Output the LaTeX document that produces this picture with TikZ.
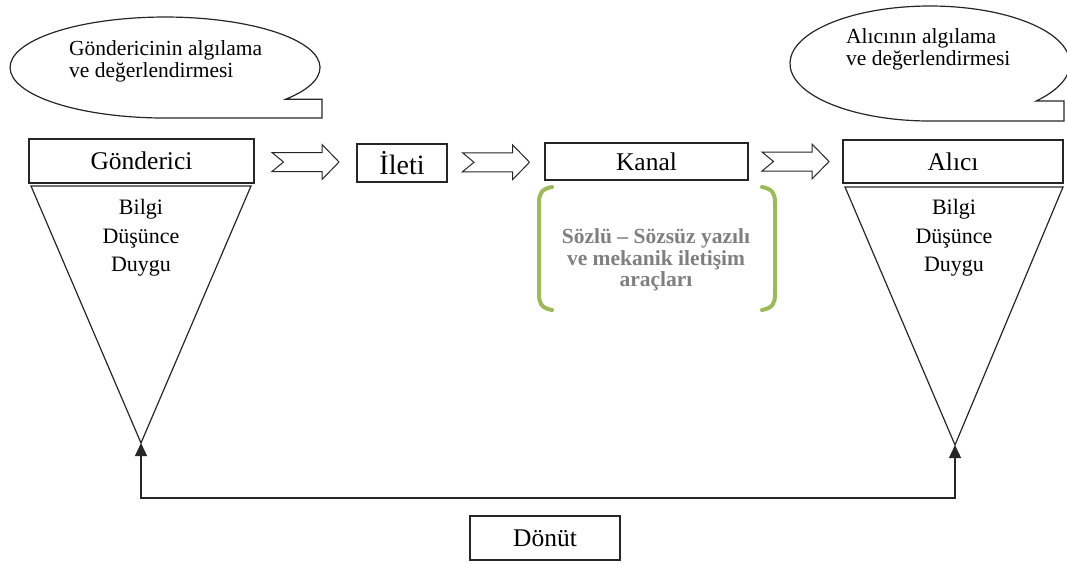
\documentclass[tikz,border=0pt]{standalone}
\usepackage{fontspec}
\setmainfont{Liberation Serif}
\usetikzlibrary{arrows.meta,positioning,calc}
\definecolor{bracketgreen}{HTML}{9BBB59}
\definecolor{notegray}{HTML}{7F7F7F}

\begin{document}
\begin{tikzpicture}[
    x=1pt, y=-1pt,
    box/.style={rectangle, draw=black!85, line width=1.2pt, inner sep=0pt, font=\fontsize{25.5}{28}\selectfont},
    outline/.style={draw=black!85, line width=1.2pt},
    body/.style={align=center, inner sep=0pt, font=\fontsize{22}{28.5}\selectfont},
    thought/.style={align=left, anchor=north west, inner sep=0pt, font=\fontsize{21.5}{22}\selectfont},
    note/.style={align=center, inner sep=0pt, text=notegray, font=\bfseries\fontsize{21.5}{21.5}\selectfont},
    bracket/.style={draw=bracketgreen, line width=4pt, line cap=round},
    feedback/.style={{Triangle[length=13pt,width=12pt]}-{Triangle[length=13pt,width=12pt]}, draw=black!85, line width=1.3pt},
    fatarrow/.pic={\draw[outline, line width=1pt] (-33.5,-9.5) -- (16.5,-9.5) -- (16.5,-17.5) -- (33.5,0) -- (16.5,17.5) -- (16.5,9.5) -- (-33.5,9.5) -- (-22,0) -- cycle;}
]
    \useasboundingbox (0,0) rectangle (1067,563);

    % Thought bubbles
    \draw[outline] (285.5,99.3) arc[start angle=39, end angle=-270, x radius=155, y radius=50.5] -- (322,118) -- (322,99.3) -- cycle;
    \node[thought] (gthought) at (69,40) {Göndericinin algılama\\ve değerlendirmesi};
    \draw[outline] (1036.1,101) arc[start angle=40.7, end angle=-270, x radius=140, y radius=57.5] -- (1064,121) -- (1064,101) -- cycle;
    \node[thought] (athought) at (846,28.5) {Alıcının algılama\\ve değerlendirmesi};

    % Main chain
    \node[box, minimum width=225pt, minimum height=44pt] (gonderici) at (141.5,161) {Gönderici};
    \node[box, minimum width=90pt, minimum height=38pt, font=\fontsize{28}{30}\selectfont] (ileti) at (402,163) {İleti};
    \node[box, minimum width=203pt, minimum height=37pt] (kanal) at (646.5,161.5) {Kanal};
    \node[box, minimum width=220pt, minimum height=43pt] (alici) at (953,161.5) {Alıcı};

    \pic at ($(gonderici.east)!0.5!(ileti.west)$) {fatarrow};
    \pic at ($(ileti.east)!0.5!(kanal.west)$) {fatarrow};
    \pic at ($(kanal.east)!0.5!(alici.west)$) {fatarrow};

    % Funnels
    \coordinate (gapex) at (141,443);
    \coordinate (aapex) at (955,445);
    \draw[outline] (31,186) -- (251,186) -- (gapex) -- cycle;
    \draw[outline] (845,187) -- (1063,187) -- (aapex) -- cycle;
    \node[body] (gcontent) at (141,238) {Bilgi\\Düşünce\\Duygu};
    \node[body] (acontent) at (954,238) {Bilgi\\Düşünce\\Duygu};

    % Channel tools
    \draw[bracket] (552,187) .. controls (541,189) and (539,194) .. (539,203) -- (539,294) .. controls (539,303) and (541,308) .. (552,310);
    \draw[bracket] (762,187) .. controls (773,189) and (775,194) .. (775,203) -- (775,294) .. controls (775,303) and (773,308) .. (762,310);
    \node[note] (tools) at (656,260) {Sözlü – Sözsüz yazılı\\ve mekanik iletişim\\araçları};

    % Feedback
    \coordinate (fbmid) at (548,498);
    \draw[feedback] (gapex) |- (fbmid) -| (aapex);
    \node[box, minimum width=150pt, minimum height=44pt] (donut) at (545,538) {Dönüt};
\end{tikzpicture}
\end{document}
